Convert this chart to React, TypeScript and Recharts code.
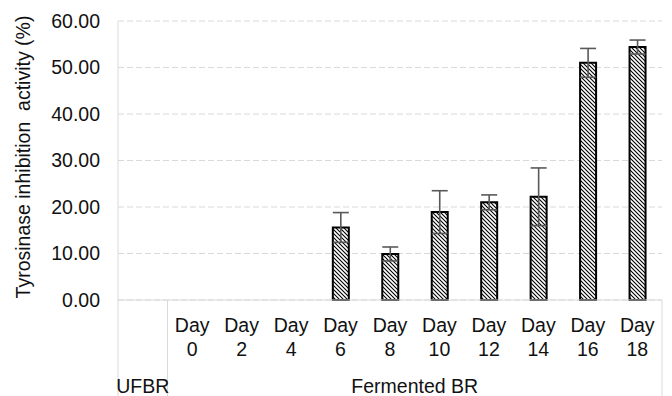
import React from "react";
import { BarChart, Bar, XAxis, YAxis, CartesianGrid, ErrorBar } from "recharts";

const categories = ["UFBR", "Day 0", "Day 2", "Day 4", "Day 6", "Day 8", "Day 10", "Day 12", "Day 14", "Day 16", "Day 18"];
const activity: (number | null)[] = [null, null, null, null, 15.6, 9.9, 18.9, 21.0, 22.2, 51.0, 54.4];
const stdDev: (number | null)[] = [null, null, null, null, 3.2, 1.5, 4.6, 1.6, 6.2, 3.1, 1.5];
const yTicks = [0, 10, 20, 30, 40, 50, 60];
const groupLabels = ["UFBR", "Fermented BR"];
const groupSizes = [1, 10];
const yTitle = "Tyrosinase inhibition  activity (%)";

const data = categories.map((c, i) => ({ name: c, value: activity[i], err: stdDev[i] }));

const W = 672;
const H = 396;
const M = { top: 21, right: 10, bottom: 0, left: 0 };
const Y_W = 118;
const X_H = 96;
const PLOT_W = W - M.left - M.right - Y_W;
const FONT = "'Liberation Sans', Arial, sans-serif";
const FS = 19.5;
const TXT = "#111";
const LINE = "#d9d9d9";

const XTick = (props: any) => {
  const { x, y, payload, index } = props;
  const step = PLOT_W / categories.length;
  const label: string = payload.value;
  const parts = label.split(" ");
  const els: React.ReactNode[] = [];
  if (parts.length === 2) {
    els.push(
      <text key="t" x={x} textAnchor="middle" fontFamily={FONT} fontSize={FS} fill={TXT}>
        <tspan x={x} y={y + 32}>{parts[0]}</tspan>
        <tspan x={x} y={y + 56}>{parts[1]}</tspan>
      </text>
    );
  }
  if (index === 0) {
    // group separators and labels
    let start = x - step / 2;
    els.push(<line key="l0" x1={start} x2={start} y1={y} y2={y + X_H} stroke={LINE} strokeWidth={1} />);
    groupLabels.forEach((g, gi) => {
      const end = start + groupSizes[gi] * step;
      els.push(<line key={"l" + (gi + 1)} x1={end} x2={end} y1={y} y2={y + X_H} stroke={LINE} strokeWidth={1} />);
      els.push(
        <text key={"g" + gi} x={(start + end) / 2} y={y + 93} textAnchor="middle" fontFamily={FONT} fontSize={FS} fill={TXT}>
          {g}
        </text>
      );
      start = end;
    });
  }
  return <g>{els}</g>;
};

const YTitle = () => (
  <text
    transform="translate(23,157) rotate(-90)"
    textAnchor="middle"
    dominantBaseline="central"
    fontFamily={FONT}
    fontSize={FS}
    fill={TXT}
    style={{ whiteSpace: "pre" }}
  >
    {yTitle}
  </text>
);

export default function App() {
  return (
    <div style={{ position: "absolute", left: 0, top: 0, width: W, height: H, background: "#fff" }}>
      <svg width={0} height={0} style={{ position: "absolute" }}>
        <defs>
          <pattern id="hatch" patternUnits="userSpaceOnUse" width={4} height={4}>
            <rect width={4} height={4} fill="#fff" />
            <path d="M-1,-1 L5,5 M-1,3 L1,5 M3,-1 L5,1" stroke="#000" strokeWidth={1.1} />
          </pattern>
        </defs>
      </svg>
      <BarChart width={W} height={H} data={data} margin={M}>
        <CartesianGrid vertical={false} stroke={LINE} strokeDasharray="6 3" />
        <XAxis
          dataKey="name"
          height={X_H}
          interval={0}
          tickLine={false}
          tickSize={0}
          tickMargin={0}
          axisLine={{ stroke: LINE, strokeWidth: 1 }}
          tick={<XTick />}
        />
        <YAxis
          width={Y_W}
          domain={[0, 60]}
          ticks={yTicks}
          tickFormatter={(v: number) => v.toFixed(2)}
          tickLine={false}
          tickSize={0}
          tickMargin={18}
          axisLine={{ stroke: LINE, strokeWidth: 1 }}
          tick={{ fontFamily: FONT, fontSize: FS, fill: TXT }}
          label={{ content: () => <YTitle /> }}
        />
        <Bar dataKey="value" barSize={16} fill="url(#hatch)" stroke="#000" strokeWidth={2} isAnimationActive={false}>
          <ErrorBar dataKey="err" width={8} stroke="#595959" strokeWidth={1.6} direction="y" />
        </Bar>
      </BarChart>
    </div>
  );
}
